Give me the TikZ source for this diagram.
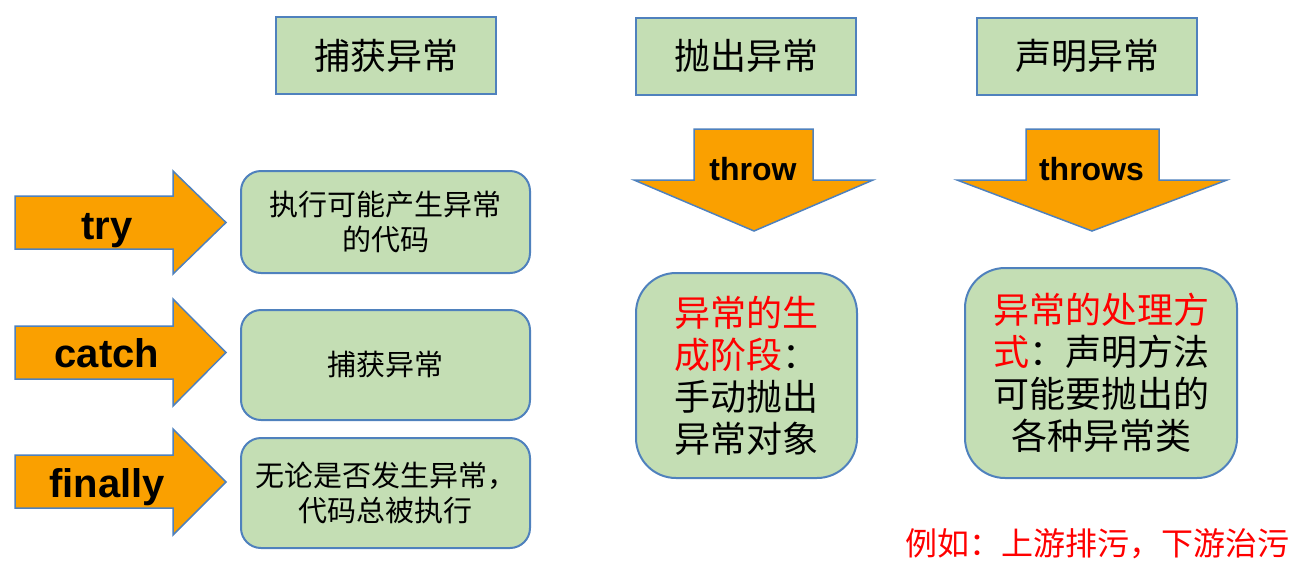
\documentclass[tikz,border=0pt]{standalone}
\usepackage{fontspec}
\setmainfont{Liberation Sans}
\newfontfamily\cjk{Noto Sans CJK SC}
\definecolor{orng}{RGB}{250,160,0}
\definecolor{bdr}{RGB}{79,129,189}
\definecolor{grn}{RGB}{196,222,180}
\begin{document}
\begin{tikzpicture}[x=1pt,y=-1pt,
  arrowshape/.style={fill=orng,draw=bdr,line width=1.5pt,line join=miter},
  kw/.style={font=\fontsize{40}{48}\selectfont\bfseries,inner sep=0pt,anchor=base},
  kwd/.style={font=\fontsize{32}{38}\selectfont\bfseries,inner sep=0pt,anchor=base},
  topbox/.style={draw=bdr,fill=grn,line width=2pt,minimum width=220pt,minimum height=77pt,inner sep=0pt,font=\cjk\fontsize{36}{42}\selectfont},
  leftbox/.style={draw=bdr,fill=grn,line width=2pt,rounded corners=20pt,minimum width=289pt,inner sep=0pt,align=center,font=\cjk\fontsize{29}{35}\selectfont},
  rightbox/.style={draw=bdr,fill=grn,line width=2pt,rounded corners=40pt,inner sep=0pt,align=center,font=\cjk\fontsize{36}{42}\selectfont},
  note/.style={text=red,inner sep=0pt,font=\cjk\fontsize{32}{38}\selectfont}]
\path[use as bounding box] (0,0) rectangle (1304,574);

% top headings
\node[topbox] (h1) at (386,55.5) {捕获异常};
\node[topbox] (h2) at (746,56) {抛出异常};
\node[topbox] (h3) at (1087,56) {声明异常};

% right arrows
\path[arrowshape] (15,196) -- (173,196) -- (173,171) -- (226,222.5) -- (173,274) -- (173,249) -- (15,249) -- cycle;
\path[arrowshape] (15,326) -- (173,326) -- (173,299) -- (226,352.5) -- (173,406) -- (173,379) -- (15,379) -- cycle;
\path[arrowshape] (15,455) -- (173,455) -- (173,429) -- (226,482) -- (173,535) -- (173,508) -- (15,508) -- cycle;
\node[kw] (ktry) at (107,239) {try};
\node[kw] (kcatch) at (107,367) {catch};
\node[kw] (kfinally) at (107,497) {finally};

% down arrows
\path[arrowshape] (694,129) -- (813,129) -- (813,180) -- (873,180) -- (754,231) -- (634,180) -- (694,180) -- cycle;
\path[arrowshape] (1026,129) -- (1159,129) -- (1159,180) -- (1227,180) -- (1092,231) -- (957,180) -- (1026,180) -- cycle;
\node[kwd] (kthrow) at (753,180) {throw};
\node[kwd] (kthrows) at (1091.5,180) {throws};

% left boxes
\node[leftbox,minimum height=102pt] (b1) at (385.5,222) {执行可能产生异常\\的代码};
\node[leftbox,minimum height=110pt] (b2) at (385.5,365) {捕获异常};
\node[leftbox,minimum height=110pt] (b3) at (385.5,493) {无论是否发生异常，\\代码总被执行};

% right boxes
\node[rightbox,minimum width=221pt,minimum height=205pt] (d1) at (746.5,375.5)
  {\textcolor{red}{异常的生}\\\textcolor{red}{成阶段}：\\手动抛出\\异常对象};
\node[rightbox,minimum width=272pt,minimum height=210pt] (d2) at (1101,373)
  {\textcolor{red}{异常的处理方}\\\textcolor{red}{式}：声明方法\\可能要抛出的\\各种异常类};

% note
\node[note] (n1) at (1097.5,544) {例如：上游排污，下游治污};
\end{tikzpicture}
\end{document}
